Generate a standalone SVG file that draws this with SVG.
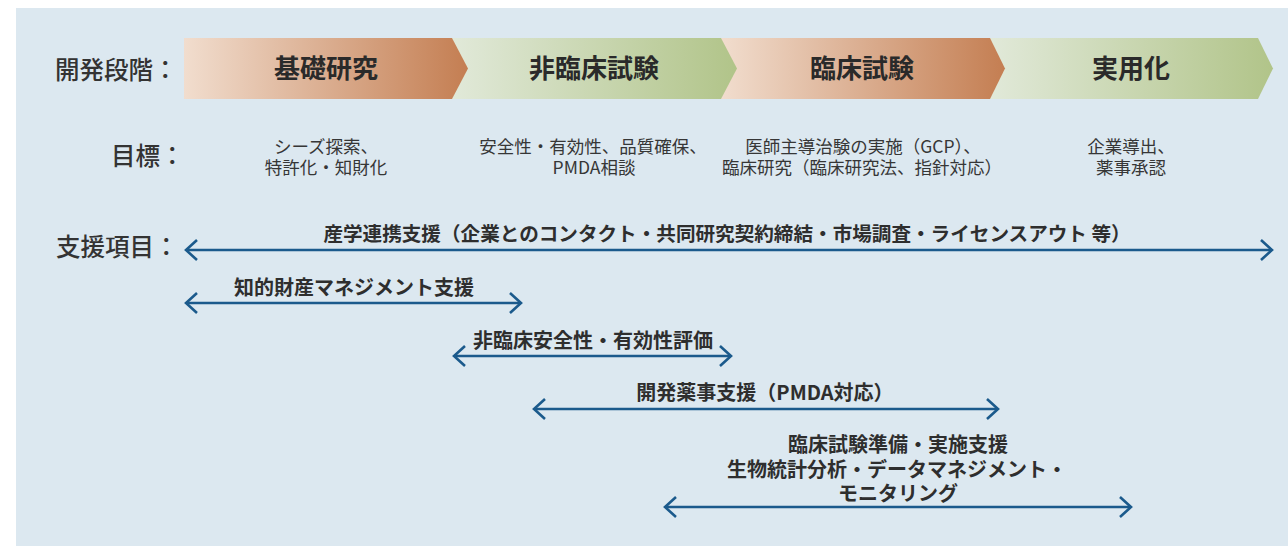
<svg xmlns="http://www.w3.org/2000/svg" width="1288" height="546" viewBox="0 0 1288 546">
  <defs>
    <linearGradient id="gBrown" x1="0" y1="0" x2="1" y2="0">
      <stop offset="0" stop-color="#f1ddce"/>
      <stop offset="1" stop-color="#c47e52"/>
    </linearGradient>
    <linearGradient id="gGreen" x1="0" y1="0" x2="1" y2="0">
      <stop offset="0" stop-color="#e1e9d9"/>
      <stop offset="1" stop-color="#b1c489"/>
    </linearGradient>
    <marker id="ah" markerUnits="userSpaceOnUse" viewBox="-14 -12 16 24" refX="0" refY="0" markerWidth="16" markerHeight="24" orient="auto-start-reverse">
      <path d="M -11 -10 L 0 0 L -11 10" fill="none" stroke="#1b5a8c" stroke-width="2.6"/>
    </marker>
    <style>
      .hd { font-family: "Noto Sans CJK JP", "Noto Sans", sans-serif; font-size: 24.5px; font-weight: 500; fill: #333333; }
      .st { font-family: "Noto Sans CJK JP", "Noto Sans", sans-serif; font-size: 26px; font-weight: 700; fill: #2a2a2a; text-anchor: middle; }
      .gl { font-family: "Noto Sans CJK JP", "Noto Sans", sans-serif; font-size: 17.5px; font-weight: 400; fill: #363636; text-anchor: middle; }
      .lb { font-family: "Noto Sans CJK JP", "Noto Sans", sans-serif; font-size: 20px; font-weight: 700; fill: #2e2e2e; text-anchor: middle; }
      .ar { fill: none; stroke: #1b5a8c; stroke-width: 2.6; marker-start: url(#ah); marker-end: url(#ah); }
    </style>
  </defs>

  <rect x="0" y="0" width="1288" height="546" fill="#ffffff"/>
  <rect id="panel" x="16" y="8" width="1272" height="538" fill="#dce8f0"/>

  <g id="headings">
    <text class="hd" x="55" y="79">開発段階：</text>
    <text class="hd" x="111" y="165">目標：</text>
    <text class="hd" x="56" y="256">支援項目：</text>
  </g>

  <g id="stage-4">
    <polygon points="990,38 1258,38 1273,68.5 1258,99 990,99" fill="url(#gGreen)"/>
    <text class="st" x="1131" y="78">実用化</text>
  </g>
  <g id="stage-3">
    <polygon points="721,38 990,38 1005,68.5 990,99 721,99" fill="url(#gBrown)"/>
    <text class="st" x="862" y="78">臨床試験</text>
  </g>
  <g id="stage-2">
    <polygon points="452,38 721,38 737,68.5 721,99 452,99" fill="url(#gGreen)"/>
    <text class="st" x="594" y="78">非臨床試験</text>
  </g>
  <g id="stage-1">
    <polygon points="184,38 452,38 468,68.5 452,99 184,99" fill="url(#gBrown)"/>
    <text class="st" x="326" y="78">基礎研究</text>
  </g>

  <g id="goals">
    <text class="gl" x="326" y="153">シーズ探索、<tspan x="326" dy="21">特許化・知財化</tspan></text>
    <text class="gl" x="593" y="153">安全性・有効性、品質確保、<tspan x="594" dy="21">PMDA相談</tspan></text>
    <text class="gl" x="863" y="153">医師主導治験の実施（GCP）、<tspan x="862" dy="21">臨床研究（臨床研究法、指針対応）</tspan></text>
    <text class="gl" x="1131" y="153">企業導出、<tspan x="1131" dy="21">薬事承認</tspan></text>
  </g>

  <g id="connectors">
    <line class="ar" x1="186" y1="250" x2="1272" y2="250"/>
    <line class="ar" x1="186" y1="303" x2="521" y2="303"/>
    <line class="ar" x1="454" y1="356" x2="731" y2="356"/>
    <line class="ar" x1="534" y1="409" x2="998" y2="409"/>
    <line class="ar" x1="665" y1="507" x2="1131" y2="507"/>
  </g>

  <g id="support-1">
    <text class="lb" x="727" y="241" style="font-size:19.6px">産学連携支援（企業とのコンタクト・共同研究契約締結・市場調査・ライセンスアウト 等）</text>
  </g>
  <g id="support-2">
    <text class="lb" x="354" y="295">知的財産マネジメント支援</text>
  </g>
  <g id="support-3">
    <text class="lb" x="593" y="348">非臨床安全性・有効性評価</text>
  </g>
  <g id="support-4">
    <text class="lb" x="765" y="400">開発薬事支援（PMDA対応）</text>
  </g>
  <g id="support-5">
    <text class="lb" x="898" y="452">臨床試験準備・実施支援<tspan x="897" dy="25">生物統計分析・データマネジメント・</tspan><tspan x="898" dy="24">モニタリング</tspan></text>
  </g>
</svg>
